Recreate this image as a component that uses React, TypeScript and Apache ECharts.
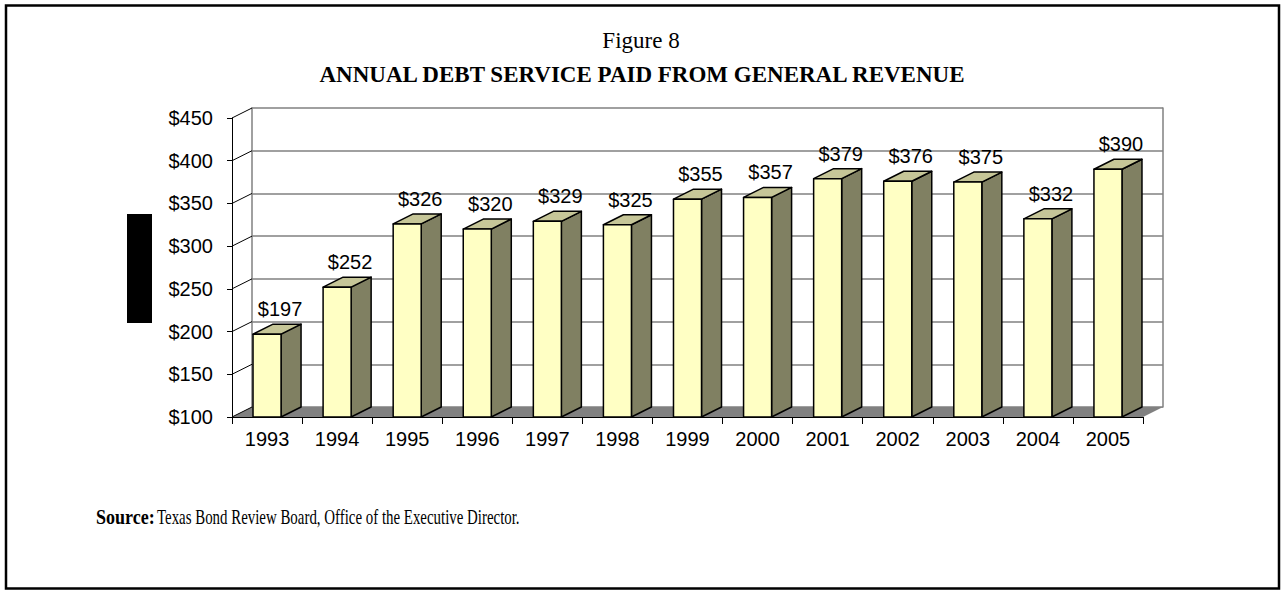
import React, { useEffect, useRef } from "react";
import * as echarts from "echarts";

const years = ["1993", "1994", "1995", "1996", "1997", "1998", "1999", "2000", "2001", "2002", "2003", "2004", "2005"];
const debtService = [197, 252, 326, 320, 329, 325, 355, 357, 379, 376, 375, 332, 390];
const yTickValues = [100, 150, 200, 250, 300, 350, 400, 450];
const yMin = 100;
const yMax = 450;
const yStep = 50;

const figureLabel = "Figure 8";
const chartTitle = "ANNUAL DEBT SERVICE PAID FROM GENERAL REVENUE";
const sourceLead = "Source:";
const sourceText = "Texas Bond Review Board, Office of the Executive Director.";

const DX = 20;
const DY = -10;
const SANS = "'Liberation Sans', Arial, sans-serif";
const SERIF = "'Liberation Serif', 'Times New Roman', serif";

export default function App() {
  const ref = useRef<HTMLDivElement>(null);

  useEffect(() => {
    if (!ref.current) return;
    const chart = echarts.init(ref.current, null, { renderer: "svg" });

    const option: any = {
      animation: false,
      backgroundColor: "#ffffff",
      grid: [
        { left: 232, top: 118, width: 911, height: 299 },
        { left: 232 + DX, top: 118 + DY, width: 911, height: 299 },
      ],
      xAxis: [
        {
          gridIndex: 0,
          type: "category",
          data: years,
          z: 5,
          axisLine: { show: true, lineStyle: { color: "#000", width: 1 } },
          axisTick: { show: true, length: 7, lineStyle: { color: "#000", width: 1 } },
          axisLabel: { color: "#000", fontSize: 20, fontFamily: SANS, margin: 12 },
          splitLine: { show: false },
        },
        {
          gridIndex: 1,
          type: "category",
          data: years,
          axisLine: { show: false },
          axisTick: { show: false },
          axisLabel: { show: false },
          splitLine: { show: false },
        },
      ],
      yAxis: [
        {
          gridIndex: 0,
          type: "value",
          min: yMin,
          max: yMax,
          interval: yStep,
          z: 5,
          axisLine: { show: true, lineStyle: { color: "#000", width: 1 } },
          axisTick: { show: true, length: 5, lineStyle: { color: "#000", width: 1 } },
          axisLabel: {
            color: "#000",
            fontSize: 20,
            fontFamily: SANS,
            margin: 19,
            formatter: (v: number) => "$" + v,
          },
          splitLine: { show: false },
        },
        {
          gridIndex: 1,
          type: "value",
          min: yMin,
          max: yMax,
          interval: yStep,
          axisLine: { show: true, lineStyle: { color: "#808080", width: 1.5 } },
          axisTick: { show: false },
          axisLabel: { show: false },
          splitLine: { show: true, lineStyle: { color: "#808080", width: 1.5 } },
        },
        {
          gridIndex: 1,
          type: "value",
          position: "right",
          min: yMin,
          max: yMax,
          interval: yStep,
          axisLine: { show: true, lineStyle: { color: "#808080", width: 1.5 } },
          axisTick: { show: false },
          axisLabel: { show: false },
          splitLine: { show: false },
        },
      ],
      series: [
        {
          type: "custom",
          name: "walls",
          coordinateSystem: "cartesian2d",
          xAxisIndex: 0,
          yAxisIndex: 0,
          z: 1,
          silent: true,
          data: yTickValues.map((v) => [0, v]),
          encode: { x: 0, y: 1 },
          renderItem: (params: any, api: any) => {
            const cs = params.coordSys;
            const p = api.coord([0, api.value(1)]);
            const children: any[] = [];
            if (params.dataIndex === 0) {
              const bY = cs.y + cs.height;
              children.push({
                type: "polygon",
                shape: {
                  points: [
                    [cs.x, bY],
                    [cs.x + cs.width, bY],
                    [cs.x + cs.width + DX, bY + DY],
                    [cs.x + DX, bY + DY],
                  ],
                },
                style: { fill: "#808080" },
              });
            }
            children.push({
              type: "line",
              shape: { x1: cs.x, y1: p[1], x2: cs.x + DX, y2: p[1] + DY },
              style: { stroke: "#000", lineWidth: 1 },
            });
            return { type: "group", children };
          },
        },
        {
          type: "custom",
          name: "Debt service",
          coordinateSystem: "cartesian2d",
          xAxisIndex: 0,
          yAxisIndex: 0,
          z: 2,
          data: debtService.map((v, i) => [i, v]),
          encode: { x: 0, y: 1 },
          renderItem: (params: any, api: any) => {
            const idx = api.value(0);
            const v = api.value(1);
            const top = api.coord([idx, v]);
            const base = api.coord([idx, yMin]);
            const bw = api.size([1, 0])[0] * 0.4;
            const x0 = top[0] - bw / 2;
            const x1 = top[0] + bw / 2;
            const yT = top[1];
            const yB = base[1];
            const stroke = { stroke: "#000", lineWidth: 1.5, lineJoin: "round" };
            return {
              type: "group",
              children: [
                {
                  type: "polygon",
                  shape: { points: [[x1, yT], [x1 + DX, yT + DY], [x1 + DX, yB + DY], [x1, yB]] },
                  style: { fill: "#808062", ...stroke },
                },
                {
                  type: "polygon",
                  shape: { points: [[x0, yT], [x0 + DX, yT + DY], [x1 + DX, yT + DY], [x1, yT]] },
                  style: { fill: "#C6C698", ...stroke },
                },
                {
                  type: "rect",
                  shape: { x: x0, y: yT, width: bw, height: yB - yT },
                  style: { fill: "#FFFFC4", ...stroke },
                },
                {
                  type: "text",
                  x: top[0] + 13,
                  y: yT + DY - 15,
                  style: {
                    text: "$" + v,
                    fill: "#000",
                    font: "20px " + SANS,
                    align: "center",
                    verticalAlign: "middle",
                  },
                },
              ],
            };
          },
        },
      ],
      graphic: [
        {
          type: "rect",
          shape: { x: 6, y: 5.5, width: 1273, height: 583 },
          style: { fill: "none", stroke: "#000", lineWidth: 2.5 },
          z: 10,
        },
        {
          type: "rect",
          shape: { x: 127, y: 214, width: 25, height: 109 },
          style: { fill: "#000" },
        },
        {
          type: "text",
          x: 641,
          y: 40,
          style: { text: figureLabel, font: "23px " + SERIF, fill: "#000", align: "center", verticalAlign: "middle" },
        },
        {
          type: "text",
          x: 642,
          y: 74.5,
          style: { text: chartTitle, font: "bold 23px " + SERIF, fill: "#000", align: "center", verticalAlign: "middle" },
        },
        {
          type: "text",
          x: 96,
          y: 517,
          scaleX: 0.9,
          style: { text: sourceLead, font: "bold 20px " + SERIF, fill: "#000", align: "left", verticalAlign: "middle" },
        },
        {
          type: "text",
          x: 157,
          y: 517,
          scaleX: 0.745,
          style: { text: sourceText, font: "20px " + SERIF, fill: "#000", align: "left", verticalAlign: "middle" },
        },
      ],
    };

    chart.setOption(option);
    return () => chart.dispose();
  }, []);

  return (
    <div
      ref={ref}
      style={{ position: "absolute", left: 0, top: 0, width: 1281, height: 591 }}
    />
  );
}
